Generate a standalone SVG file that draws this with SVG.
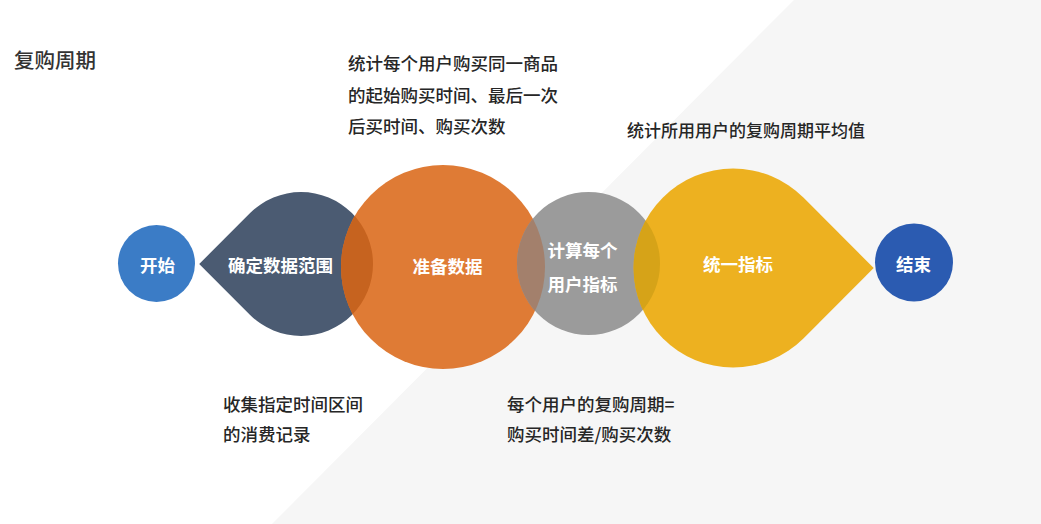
<svg xmlns="http://www.w3.org/2000/svg" width="1041" height="524" viewBox="0 0 1041 524">
  <style>
    .note { font-family: "Noto Sans CJK SC", "Liberation Sans", sans-serif; font-size: 17.5px; font-weight: 500; fill: #262626; }
    .title { font-family: "Noto Sans CJK SC", "Liberation Sans", sans-serif; font-size: 20.5px; font-weight: 500; fill: #333333; }
    .label { font-family: "Noto Sans CJK SC", "Liberation Sans", sans-serif; font-size: 17.5px; font-weight: bold; fill: #ffffff; text-anchor: middle; }
  </style>
  <defs>
    <path id="dropDark" d="M199.2,264 L250.1,213.1 A72,72 0 1 1 250.1,314.9 Z"/>
    <circle id="circOrange" cx="443" cy="267" r="102"/>
    <circle id="circGray" cx="588.5" cy="263.5" r="71.5"/>
    <path id="dropYellow" d="M873.7,268 L803.4,338.4 A99.5,99.5 0 1 1 803.4,197.6 Z"/>
    <clipPath id="clipDark"><use href="#dropDark"/></clipPath>
    <clipPath id="clipOrange"><use href="#circOrange"/></clipPath>
    <clipPath id="clipGray"><use href="#circGray"/></clipPath>
  </defs>

  <rect x="0" y="0" width="1041" height="524" fill="#ffffff"/>
  <polygon points="794,0 1041,0 1041,524 272,524" fill="#f6f6f6"/>

  <text class="title" x="14" y="67.5">复购周期</text>

  <g id="connectors"></g>

  <g id="node-start">
    <circle cx="156.5" cy="263.5" r="38.5" fill="#3b7cc6"/>
    <text class="label" x="157.5" y="272">开始</text>
  </g>

  <g id="node-range">
    <use href="#dropDark" fill="#4b5b72"/>
    <text class="label" x="280.5" y="272">确定数据范围</text>
  </g>

  <g id="node-prepare">
    <use href="#circOrange" fill="#df7b35"/>
    <use href="#circOrange" fill="#c6631f" clip-path="url(#clipDark)"/>
    <text class="label" x="447.5" y="273">准备数据</text>
  </g>

  <g id="node-compute">
    <use href="#circGray" fill="#9b9b9b"/>
    <use href="#circGray" fill="#a3806c" clip-path="url(#clipOrange)"/>
    <text class="label" x="582.5" y="257">计算每个</text>
    <text class="label" x="582.5" y="291">用户指标</text>
  </g>

  <g id="node-unify">
    <use href="#dropYellow" fill="#edb120"/>
    <use href="#dropYellow" fill="#d6a318" clip-path="url(#clipGray)"/>
    <text class="label" x="738" y="271">统一指标</text>
  </g>

  <g id="node-end">
    <circle cx="914" cy="262.5" r="39" fill="#2b5bb1"/>
    <text class="label" x="913.5" y="271">结束</text>
  </g>

  <g id="notes">
    <text class="note" x="348" y="70">统计每个用户购买同一商品</text>
    <text class="note" x="348" y="102">的起始购买时间、最后一次</text>
    <text class="note" x="348" y="133">后买时间、购买次数</text>
    <text class="note" x="627" y="137" style="font-size:17px">统计所用用户的复购周期平均值</text>
    <text class="note" x="223" y="411">收集指定时间区间</text>
    <text class="note" x="223" y="441">的消费记录</text>
    <text class="note" x="507" y="411">每个用户的复购周期=</text>
    <text class="note" x="507" y="441">购买时间差/购买次数</text>
  </g>
</svg>
